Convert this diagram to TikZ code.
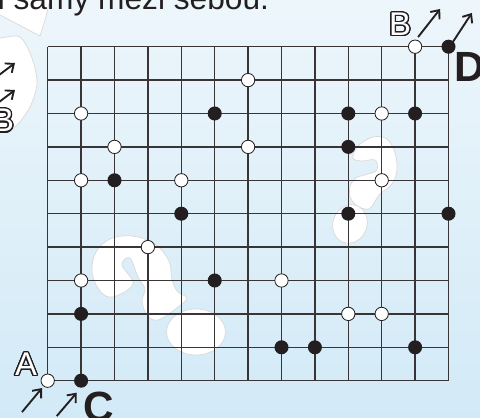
\documentclass[tikz,border=0pt]{standalone}
\usepackage{fontspec}
\setmainfont{Liberation Sans}
\usepackage{contour}
\usetikzlibrary{arrows.meta}
\definecolor{ink}{HTML}{231F20}
\definecolor{bgtop}{HTML}{EDF6FB}
\definecolor{bgbot}{HTML}{D2EAF7}
\contourlength{1.1pt}
\contournumber{24}
\newcommand{\hollow}[1]{\textcolor{white}{\contour{ink}{#1}}}

\begin{document}
\begin{tikzpicture}[
    gridline/.style={line width=1.1pt, draw=ink!90},
    wdot/.style={circle, draw=ink, line width=0.7pt, fill=white, inner sep=0pt, minimum size=0.4cm},
    bdot/.style={circle, fill=ink, inner sep=0pt, minimum size=0.42cm},
    arr/.style={-{Straight Barb[length=6pt,width=10pt]}, line width=1.6pt, ink},
    blob/.style={fill=white, draw=black!15, line width=0.6pt},
    hollowlbl/.style={font=\fontsize{28}{28}\selectfont, inner sep=0pt},
    boldlbl/.style={font=\fontsize{36}{36}\selectfont\bfseries, text=ink, inner sep=0pt}
]
    \useasboundingbox (-1.428,-1.087) rectangle (12.943,11.398);
    \clip (-1.428,-1.087) rectangle (12.943,11.398);
    \shade[top color=bgtop, bottom color=bgbot] (-1.428,-1.087) rectangle (12.943,11.398);

    \begin{scope}[shift={(-1.428,11.398)}, x=0.02994cm, y=-0.02994cm]
        \draw[blob] (-10,8) -- (0,15) -- (40,36) -- (46,17) -- (52,-10) -- (-10,-10) -- cycle;
        \draw[blob] plot[smooth cycle] coordinates {(-20,40) (0,38) (20,37) (32,58) (37,83) (30,107) (15,127) (0,132) (-20,130)};
        \draw[blob] plot[smooth cycle, tension=0.6] coordinates {(113,297) (100,291) (92,272) (96,252) (110,239) (132,236) (155,244) (169,261) (172,280) (178,292) (187,298) (178,307) (158,320) (147,315) (142,301) (145,289) (138,277) (130,258) (122,265) (133,284)};
        \draw[blob] (196,332) ellipse (29.5 and 23);
        \draw[blob] plot[smooth cycle, tension=0.6] coordinates {(353,158) (358,146) (373,137) (387,139) (395,153) (397,170) (392,184) (380,194) (374,203) (369,209) (359,207) (351,199) (350,187) (356,178) (368,174) (377,170) (375,160) (362,161)};
        \draw[blob, rotate around={-20:(350,224)}] (350,224) ellipse (17 and 19.5);
    \end{scope}

    \node[anchor=base west, inner sep=0pt, font=\fontsize{27}{27}\selectfont, text=ink] (title) at (-1.50,11.099) {i samy mezi sebou.};

    \draw[gridline] (0,0) grid (12,10);

    \foreach \x/\y in {11/10,6/9,1/8,10/8,2/7,6/7,1/6,4/6,10/6,3/4,1/3,7/3,9/2,10/2,0/0} {
        \node[wdot] (w\x-\y) at (\x,\y) {};
    }
    \foreach \x/\y in {12/10,5/8,9/8,11/8,9/7,2/6,4/5,9/5,12/5,5/3,1/2,7/1,8/1,11/1,1/0} {
        \node[bdot] (b\x-\y) at (\x,\y) {};
    }

    \node[hollowlbl] (la) at (-0.65,0.47) {\hollow{A}};
    \node[hollowlbl] (lb) at (10.55,10.65) {\hollow{B}};
    \node[hollowlbl] (lbleft) at (-1.338,7.77) {\hollow{B}};
    \node[boldlbl] (lc) at (1.52,-0.78) {C};
    \node[boldlbl] (ld) at (12.644,9.392) {D};

    \coordinate (atail) at (-0.77,-0.94);
    \coordinate (ahead) at (-0.17,-0.22);
    \coordinate (ctail) at (0.27,-1.06);
    \coordinate (chead) at (0.87,-0.36);
    \coordinate (btail) at (11.09,10.29);
    \coordinate (bhead) at (11.75,11.13);
    \coordinate (dtail) at (12.13,10.14);
    \coordinate (dhead) at (12.70,11.01);
    \coordinate (ltail1) at (-1.578,9.06);
    \coordinate (lhead1) at (-0.979,9.512);
    \coordinate (ltail2) at (-1.578,8.25);
    \coordinate (lhead2) at (-0.979,8.704);

    \draw[arr] (atail) -- (ahead);
    \draw[arr] (ctail) -- (chead);
    \draw[arr] (btail) -- (bhead);
    \draw[arr] (dtail) -- (dhead);
    \draw[arr] (ltail1) -- (lhead1);
    \draw[arr] (ltail2) -- (lhead2);
\end{tikzpicture}
\end{document}
